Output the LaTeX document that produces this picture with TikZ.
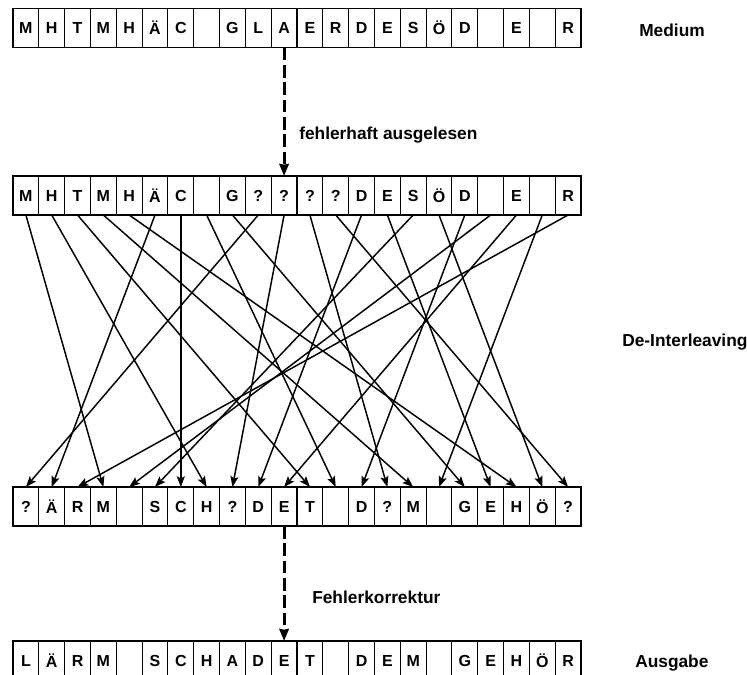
\documentclass[tikz,border=0pt]{standalone}
\usepackage{fontspec}
\setmainfont{Liberation Sans}
\usetikzlibrary{arrows.meta}
\begin{document}
\begin{tikzpicture}[x=0.75pt,y=-0.75pt,
  cell/.style={draw, line width=0.8pt, minimum width=19.364pt, minimum height=29.25pt,
    inner sep=0pt, outer sep=0pt, font=\fontsize{12}{14}\selectfont\bfseries},
  conn/.style={line width=1.1pt, -{Stealth[length=8pt,width=6pt,inset=1.5pt]}},
  dasharrow/.style={line width=2.2pt, dash pattern=on 9.5pt off 3.5pt,
    -{Stealth[length=9pt,width=7pt,inset=0.5pt]}},
  lab/.style={anchor=base west, inner sep=0pt, font=\fontsize{13}{15}\selectfont\bfseries}]
\clip (0,0) rectangle (747,675);
% row 1: Medium
\foreach \ch [count=\n from 0] in {M,H,T,M,H,Ä,C,{},G,L,A,E,R,D,E,S,Ö,D,{},E,{},R}
  \node[cell] (a\n) at ({13+25.818*(\n+0.5)},28) {\ch};
% row 2: read with errors
\foreach \ch [count=\n from 0] in {M,H,T,M,H,Ä,C,{},G,?,?,?,?,D,E,S,Ö,D,{},E,{},R}
  \node[cell] (b\n) at ({13+25.818*(\n+0.5)},195.5) {\ch};
% row 3: de-interleaved
\foreach \ch [count=\n from 0] in {?,Ä,R,M,{},S,C,H,?,D,E,T,{},D,?,M,{},G,E,H,Ö,?}
  \node[cell] (c\n) at ({13+25.818*(\n+0.5)},506.5) {\ch};
% row 4: output
\foreach \ch [count=\n from 0] in {L,Ä,R,M,{},S,C,H,A,D,E,T,{},D,E,M,{},G,E,H,Ö,R}
  \node[cell] (d\n) at ({13+25.818*(\n+0.5)},660.5) {\ch};
% de-interleaving connectors
\foreach \s/\t in {0/3,1/7,2/11,3/15,4/19,5/1,6/6,7/12,8/17,9/0,10/8,11/14,12/21,
                   13/9,14/18,15/5,16/20,17/13,18/4,19/10,20/16,21/2}
  \draw[conn] (b\s.south) -- (c\t.north);
% dashed arrows
\draw[dasharrow] (a10.south) -- (b10.north);
\draw[dasharrow] (c10.south) -- (d10.north);
% labels
\node[lab] (medium) at (639,36) {Medium};
\node[lab] (fehl) at (299,139) {fehlerhaft ausgelesen};
\node[lab] (deint) at (622,346) {De-Interleaving};
\node[lab] (korr) at (312,603) {Fehlerkorrektur};
\node[lab] (ausg) at (635,667) {Ausgabe};
\end{tikzpicture}
\end{document}
